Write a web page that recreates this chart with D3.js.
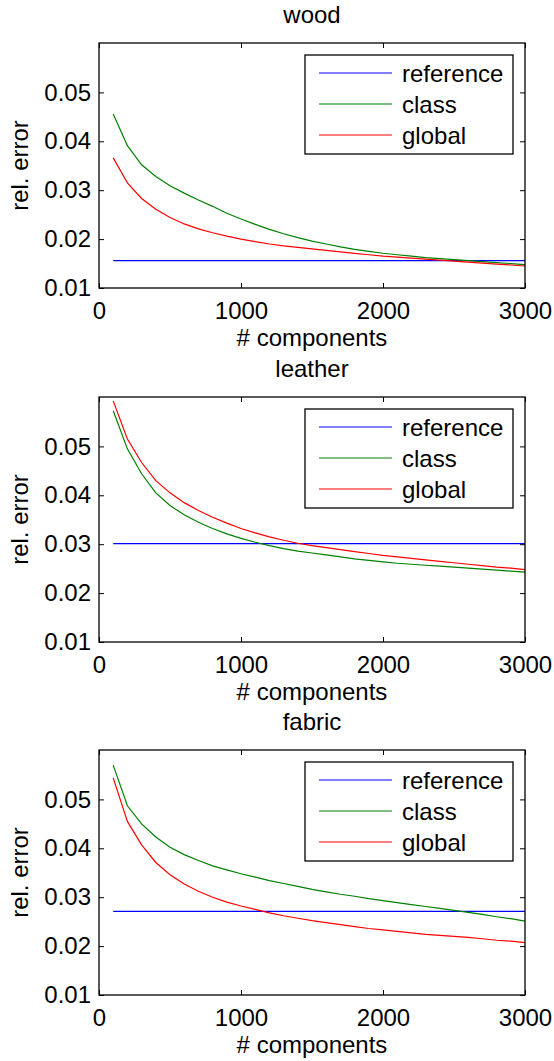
<!DOCTYPE html>
<html lang="en">
<head>
  <meta charset="UTF-8">
  <title>rel. error vs components</title>
  <script src="https://cdn.jsdelivr.net/npm/d3@7/dist/d3.min.js"></script>
  <style>
    body{ margin:0; background:#fff; }
    text{ font-family:"Liberation Sans", Arial, sans-serif; font-size:24px; fill:#000; }
    .frame{ fill:none; stroke:#000; stroke-width:1.3; }
    .tickmark{ stroke:#000; stroke-width:1; }
    .series{ fill:none; stroke-width:1.2; }
  </style>
</head>
<body>
  <svg></svg>
  <script>

  var W = 554, H = 1061;

  var components = [100,200,300,400,500,600,700,800,900,1000,1100,1200,1300,1400,1500,
    1600,1700,1800,1900,2000,2100,2200,2300,2400,2500,2600,2700,2800,2900,3000];

  var xTicks = [0, 1000, 2000, 3000],
    yTicks = [0.01, 0.02, 0.03, 0.04, 0.05];

  var titles = ["wood", "leather", "fabric"];
  var seriesNames = ["reference", "class", "global"];
  var colors = ["#0000ff", "#008000", "#ff0000"];

  // reference level per material (flat line)
  var referenceErr = [0.0156, 0.0301, 0.0271];

  var woodClass = [0.0456,0.0391,0.0352,0.0328,0.0309,0.0294,0.0280,0.0267,0.0253,0.0241,
    0.0230,0.0220,0.0211,0.0203,0.0196,0.0190,0.0184,0.0179,0.0175,0.0171,
    0.0168,0.0165,0.0162,0.0160,0.0158,0.0156,0.0154,0.0152,0.0150,0.0148];
  var woodGlobal = [0.0366,0.0315,0.0283,0.0261,0.0244,0.0231,0.0221,0.0213,0.0206,0.0200,
    0.0195,0.0190,0.0186,0.0183,0.0180,0.0177,0.0174,0.0171,0.0168,0.0165,
    0.0163,0.0161,0.0159,0.0157,0.0155,0.0153,0.0151,0.0149,0.0147,0.0145];

  var leatherClass = [0.0573,0.0495,0.0444,0.0405,0.0379,0.0360,0.0345,0.0332,0.0321,0.0312,
    0.0304,0.0297,0.0291,0.0286,0.0282,0.0278,0.0274,0.0270,0.0267,0.0264,
    0.0261,0.0259,0.0257,0.0255,0.0253,0.0251,0.0249,0.0247,0.0245,0.0243];
  var leatherGlobal = [0.0593,0.0515,0.0467,0.0430,0.0405,0.0385,0.0369,0.0355,0.0343,0.0332,
    0.0323,0.0315,0.0308,0.0302,0.0297,0.0293,0.0289,0.0285,0.0281,0.0277,
    0.0274,0.0271,0.0268,0.0265,0.0262,0.0259,0.0256,0.0253,0.0251,0.0248];

  var fabricClass = [0.0570,0.0487,0.0450,0.0423,0.0402,0.0387,0.0375,0.0364,0.0356,0.0348,
    0.0341,0.0334,0.0328,0.0322,0.0316,0.0311,0.0306,0.0302,0.0297,0.0293,
    0.0289,0.0285,0.0281,0.0277,0.0273,0.0269,0.0265,0.0260,0.0256,0.0251];
  var fabricGlobal = [0.0544,0.0455,0.0407,0.0371,0.0346,0.0327,0.0312,0.0300,0.0290,0.0282,
    0.0275,0.0268,0.0262,0.0257,0.0252,0.0248,0.0244,0.0240,0.0236,0.0233,
    0.0230,0.0227,0.0224,0.0222,0.0220,0.0218,0.0215,0.0212,0.0210,0.0207];

  var classErr = [woodClass, leatherClass, fabricClass],
    globalErr = [woodGlobal, leatherGlobal, fabricGlobal];

  var svg = d3.select("svg").attr("width", W).attr("height", H);

  var left = 99, right = 525, ph = 245, tickLen = 5;
  var tops = [43, 397, 750];

  var x = d3.scaleLinear().domain([0, 3000]).range([left, right]);

  titles.forEach(function(name, i){
    var top = tops[i], bottom = top + ph;
    var y = d3.scaleLinear().domain([0.01, 0.0601]).range([bottom, top]);
    var g = svg.append("g");

    // title
    g.append("text").attr("x", (left + right) / 2).attr("y", top - 20)
      .attr("text-anchor", "middle").text(name);

    // series
    var line = d3.line()
      .x(function(d){ return x(d[0]); })
      .y(function(d){ return y(d[1]); });
    var refData = components.map(function(c){ return [c, referenceErr[i]]; });
    var clsData = components.map(function(c, k){ return [c, classErr[i][k]]; });
    var gloData = components.map(function(c, k){ return [c, globalErr[i][k]]; });
    [refData, clsData, gloData].forEach(function(dat, s){
      g.append("path").attr("class", "series").attr("d", line(dat))
        .attr("stroke", colors[s]);
    });

    // axes, inward ticks on all sides
    var xb = g.append("g").attr("transform", "translate(0," + bottom + ")")
      .call(d3.axisBottom(x).tickValues(xTicks).tickSize(-tickLen).tickPadding(tickLen + 8)
        .tickFormat(d3.format("d")));
    var xt = g.append("g").attr("transform", "translate(0," + top + ")")
      .call(d3.axisTop(x).tickValues(xTicks).tickSize(-tickLen).tickFormat(""));
    var yl = g.append("g").attr("transform", "translate(" + left + ",0)")
      .call(d3.axisLeft(y).tickValues(yTicks).tickSize(-tickLen).tickPadding(tickLen + 3)
        .tickFormat(d3.format(".2f")));
    var yr = g.append("g").attr("transform", "translate(" + right + ",0)")
      .call(d3.axisRight(y).tickValues(yTicks).tickSize(-tickLen).tickFormat(""));
    [xb, xt, yl, yr].forEach(function(a){
      a.attr("font-size", null).attr("font-family", null);
      a.select(".domain").remove();
      a.selectAll("line").attr("class", "tickmark");
      a.selectAll("text").attr("fill", null);
    });
    xb.selectAll("text").attr("dy", null).attr("y", 30.5);

    g.append("rect").attr("class", "frame")
      .attr("x", left).attr("y", top).attr("width", right - left).attr("height", ph);

    // axis labels
    g.append("text").attr("x", (left + right) / 2).attr("y", bottom + 58)
      .attr("text-anchor", "middle").text("# components");
    g.append("text").attr("transform", "translate(28," + (top + ph / 2) + ")rotate(-90)")
      .attr("text-anchor", "middle").text("rel. error");

    // legend
    var lg = g.append("g").attr("transform", "translate(305," + (top + 12) + ")");
    lg.append("rect").attr("width", 208).attr("height", 99)
      .attr("fill", "#fff").attr("stroke", "#000").attr("stroke-width", 1.3);
    seriesNames.forEach(function(s, k){
      var ly = 18 + k * 31;
      lg.append("line").attr("x1", 14).attr("x2", 87).attr("y1", ly).attr("y2", ly)
        .attr("stroke", colors[k]).attr("stroke-width", 1.2);
      lg.append("text").attr("x", 97).attr("y", ly + 8.5).text(s);
    });
  });

  </script>
</body>
</html>
